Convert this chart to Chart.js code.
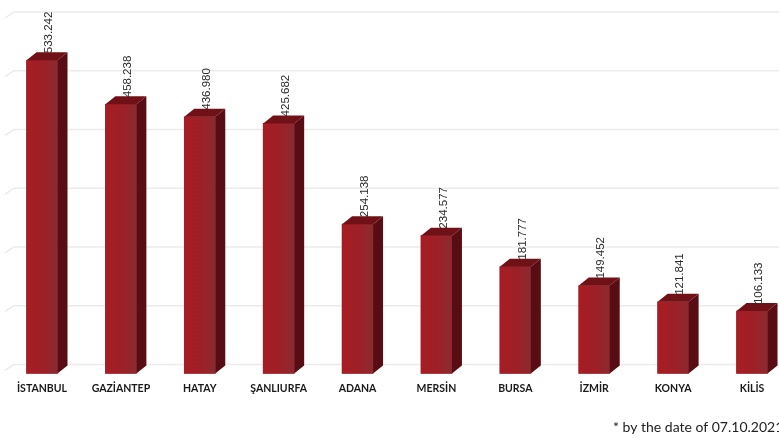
<!DOCTYPE html>
<html>
<head>
<meta charset="utf-8">
<script src="https://cdn.jsdelivr.net/npm/chart.js@4.4.1/dist/chart.umd.min.js"></script>
<style>
  html, body { margin: 0; padding: 0; background: #fff; overflow: hidden; }
  #kutu { width: 779px; height: 438px; }
</style>
</head>
<body>
<div id="kutu"><canvas id="grafik" width="779" height="438"></canvas></div>
<script>
const iller = ['İSTANBUL', 'GAZİANTEP', 'HATAY', 'ŞANLIURFA', 'ADANA', 'MERSİN', 'BURSA', 'İZMİR', 'KONYA', 'KİLİS'];
const sayilar = [533242, 458238, 436980, 425682, 254138, 234577, 181777, 149452, 121841, 106133];
const cizgiler = [0, 100000, 200000, 300000, 400000, 500000, 600000];
const dipnot = '* by the date of 07.10.2021';

// derinlik (3B görünüm için)
const DX = 10, DY = 8;

function binlik(n) {
  return String(n).replace(/\B(?=(\d{3})+(?!\d))/g, '.');
}

const ucBoyut = {
  id: 'ucBoyut',
  beforeDatasetsDraw(chart) {
    const ctx = chart.ctx;
    const y = chart.scales.y;
    ctx.save();
    // arka duvar çizgileri
    ctx.strokeStyle = '#ebebeb';
    ctx.lineWidth = 1.5;
    cizgiler.forEach(v => {
      const py = y.getPixelForValue(v) - DY - 1;
      ctx.beginPath();
      ctx.moveTo(5, py + 6);
      ctx.lineTo(14, py);
      ctx.lineTo(779, py);
      ctx.stroke();
    });
    // değer etiketleri (dikey)
    const meta = chart.getDatasetMeta(0);
    ctx.fillStyle = '#2b2b2b';
    ctx.font = '11.5px "Liberation Sans", Arial, sans-serif';
    ctx.textAlign = 'left';
    ctx.textBaseline = 'middle';
    meta.data.forEach((bar, i) => {
      ctx.save();
      ctx.translate(bar.x + DX / 2 + 2, bar.y - 7);
      ctx.rotate(-Math.PI / 2);
      ctx.fillText(binlik(sayilar[i]), 0, 0);
      ctx.restore();
    });
    ctx.restore();
  },
  afterDatasetsDraw(chart) {
    const ctx = chart.ctx;
    const meta = chart.getDatasetMeta(0);
    ctx.save();
    meta.data.forEach(bar => {
      const sol = bar.x - bar.width / 2;
      const sag = bar.x + bar.width / 2;
      const ust = bar.y;
      const alt = bar.base;
      // ön yüz gölgesi
      const g = ctx.createLinearGradient(sol, 0, sag, 0);
      g.addColorStop(0, '#a81c24');
      g.addColorStop(0.55, '#9d2027');
      g.addColorStop(1, '#8a2b30');
      ctx.fillStyle = g;
      ctx.fillRect(sol, ust, sag - sol, alt - ust);
      // üst yüz
      ctx.fillStyle = '#701017';
      ctx.beginPath();
      ctx.moveTo(sol, ust);
      ctx.lineTo(sol + DX, ust - DY);
      ctx.lineTo(sag + DX, ust - DY);
      ctx.lineTo(sag, ust);
      ctx.closePath();
      ctx.fill();
      // yan yüz
      ctx.fillStyle = '#570d13';
      ctx.beginPath();
      ctx.moveTo(sag, ust);
      ctx.lineTo(sag + DX, ust - DY);
      ctx.lineTo(sag + DX, alt - DY);
      ctx.lineTo(sag, alt);
      ctx.closePath();
      ctx.fill();
    });
    // dipnot
    ctx.fillStyle = '#222';
    ctx.font = '14px Lato, sans-serif';
    ctx.textAlign = 'left';
    ctx.textBaseline = 'middle';
    ctx.fillText(dipnot, 613, 427);
    ctx.restore();
  }
};

new Chart(document.getElementById('grafik'), {
  type: 'bar',
  data: {
    labels: iller,
    datasets: [{
      data: sayilar,
      backgroundColor: '#a01e25',
      barThickness: 31,
      clip: false
    }]
  },
  options: {
    responsive: false,
    animation: false,
    layout: { padding: { left: 42, right: 27, top: 21, bottom: 34 } },
    plugins: {
      legend: { display: false },
      tooltip: { enabled: false }
    },
    scales: {
      x: {
        offset: false,
        grid: { display: false, drawTicks: false },
        border: { display: false },
        ticks: {
          padding: 9,
          color: '#1a1a1a',
          maxRotation: 0,
          autoSkip: false,
          font: { family: 'Lato', size: 10.5, weight: 'bold' }
        }
      },
      y: {
        display: false,
        min: 0,
        max: 600000
      }
    }
  },
  plugins: [ucBoyut]
});
</script>
</body>
</html>
